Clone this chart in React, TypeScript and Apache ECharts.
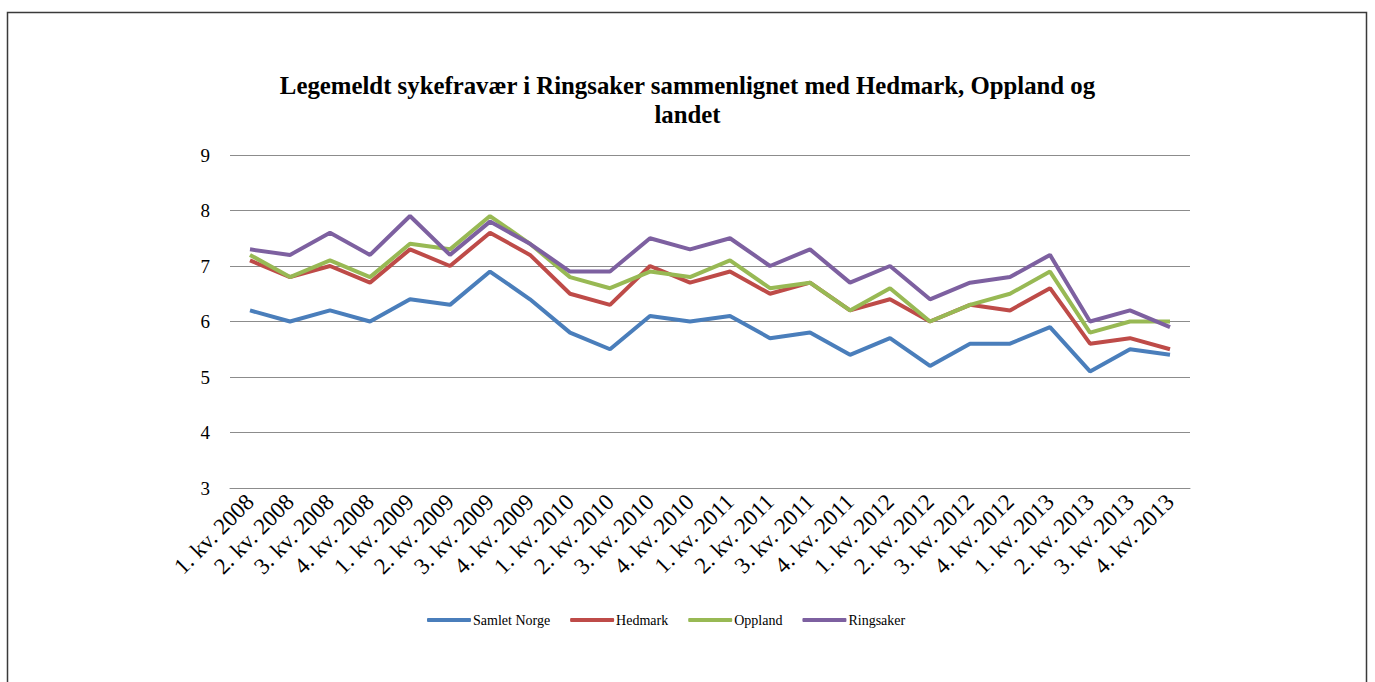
import React, { useEffect, useRef } from "react";
import * as echarts from "echarts";

const categories = [
  "1. kv. 2008", "2. kv. 2008", "3. kv. 2008", "4. kv. 2008",
  "1. kv. 2009", "2. kv. 2009", "3. kv. 2009", "4. kv. 2009",
  "1. kv. 2010", "2. kv. 2010", "3. kv. 2010", "4. kv. 2010",
  "1. kv. 2011", "2. kv. 2011", "3. kv. 2011", "4. kv. 2011",
  "1. kv. 2012", "2. kv. 2012", "3. kv. 2012", "4. kv. 2012",
  "1. kv. 2013", "2. kv. 2013", "3. kv. 2013", "4. kv. 2013",
];

const samletNorge = [6.2, 6.0, 6.2, 6.0, 6.4, 6.3, 6.9, 6.4, 5.8, 5.5, 6.1, 6.0, 6.1, 5.7, 5.8, 5.4, 5.7, 5.2, 5.6, 5.6, 5.9, 5.1, 5.5, 5.4];
const hedmark = [7.1, 6.8, 7.0, 6.7, 7.3, 7.0, 7.6, 7.2, 6.5, 6.3, 7.0, 6.7, 6.9, 6.5, 6.7, 6.2, 6.4, 6.0, 6.3, 6.2, 6.6, 5.6, 5.7, 5.5];
const oppland = [7.2, 6.8, 7.1, 6.8, 7.4, 7.3, 7.9, 7.4, 6.8, 6.6, 6.9, 6.8, 7.1, 6.6, 6.7, 6.2, 6.6, 6.0, 6.3, 6.5, 6.9, 5.8, 6.0, 6.0];
const ringsaker = [7.3, 7.2, 7.6, 7.2, 7.9, 7.2, 7.8, 7.4, 6.9, 6.9, 7.5, 7.3, 7.5, 7.0, 7.3, 6.7, 7.0, 6.4, 6.7, 6.8, 7.2, 6.0, 6.2, 5.9];

const seriesNames = ["Samlet Norge", "Hedmark", "Oppland", "Ringsaker"];
const seriesColors = ["#4A7EBB", "#BE4B48", "#98B954", "#7D60A0"];
const seriesData = [samletNorge, hedmark, oppland, ringsaker];

const titleText = "Legemeldt sykefravær i Ringsaker sammenlignet med Hedmark, Oppland og\nlandet";

const FONT = "'Liberation Serif', 'Times New Roman', serif";

export default function App() {
  const ref = useRef<HTMLDivElement>(null);

  useEffect(() => {
    if (!ref.current) return;
    const chart = echarts.init(ref.current, undefined, { renderer: "svg" });
    chart.setOption({
      animation: false,
      backgroundColor: "#ffffff",
      title: {
        text: titleText,
        left: "center",
        top: 66,
        textStyle: {
          fontFamily: FONT,
          fontSize: 24.8,
          fontWeight: "bold",
          color: "#000",
          lineHeight: 29,
        },
      },
      graphic: [
        {
          type: "rect",
          shape: { x: 7.5, y: 12.5, width: 1359, height: 720 },
          style: { fill: "none", stroke: "#3a3a3a", lineWidth: 1.5 },
          silent: true,
        },
      ],
      legend: {
        left: 422,
        top: 608,
        itemWidth: 44,
        itemHeight: 4,
        itemGap: 20,
        icon: "roundRect",
        textStyle: { fontFamily: FONT, fontSize: 14, color: "#000", padding: [0, 0, 0, -3] },
        data: seriesNames,
      },
      grid: { left: 230, right: 185, top: 155, bottom: 194 },
      xAxis: {
        type: "category",
        data: categories,
        boundaryGap: true,
        axisLine: { show: true, lineStyle: { color: "#8c8c8c", width: 1 } },
        axisTick: { show: false },
        axisLabel: {
          interval: 0,
          rotate: 45,
          margin: 10,
          fontFamily: FONT,
          fontSize: 23,
          color: "#000",
        },
      },
      yAxis: {
        type: "value",
        min: 3,
        max: 9,
        interval: 1,
        axisLine: { show: false },
        axisTick: { show: false },
        axisLabel: { fontFamily: FONT, fontSize: 19, color: "#000", margin: 20 },
        splitLine: { lineStyle: { color: "#8c8c8c", width: 1 } },
      },
      series: seriesData.map((d, i) => ({
        name: seriesNames[i],
        type: "line",
        data: d,
        symbol: "none",
        color: seriesColors[i],
        lineStyle: { width: 4, color: seriesColors[i] },
      })),
    });
    return () => chart.dispose();
  }, []);

  return (
    <div
      ref={ref}
      style={{ position: "absolute", left: 0, top: 0, width: 1375, height: 682 }}
    />
  );
}
